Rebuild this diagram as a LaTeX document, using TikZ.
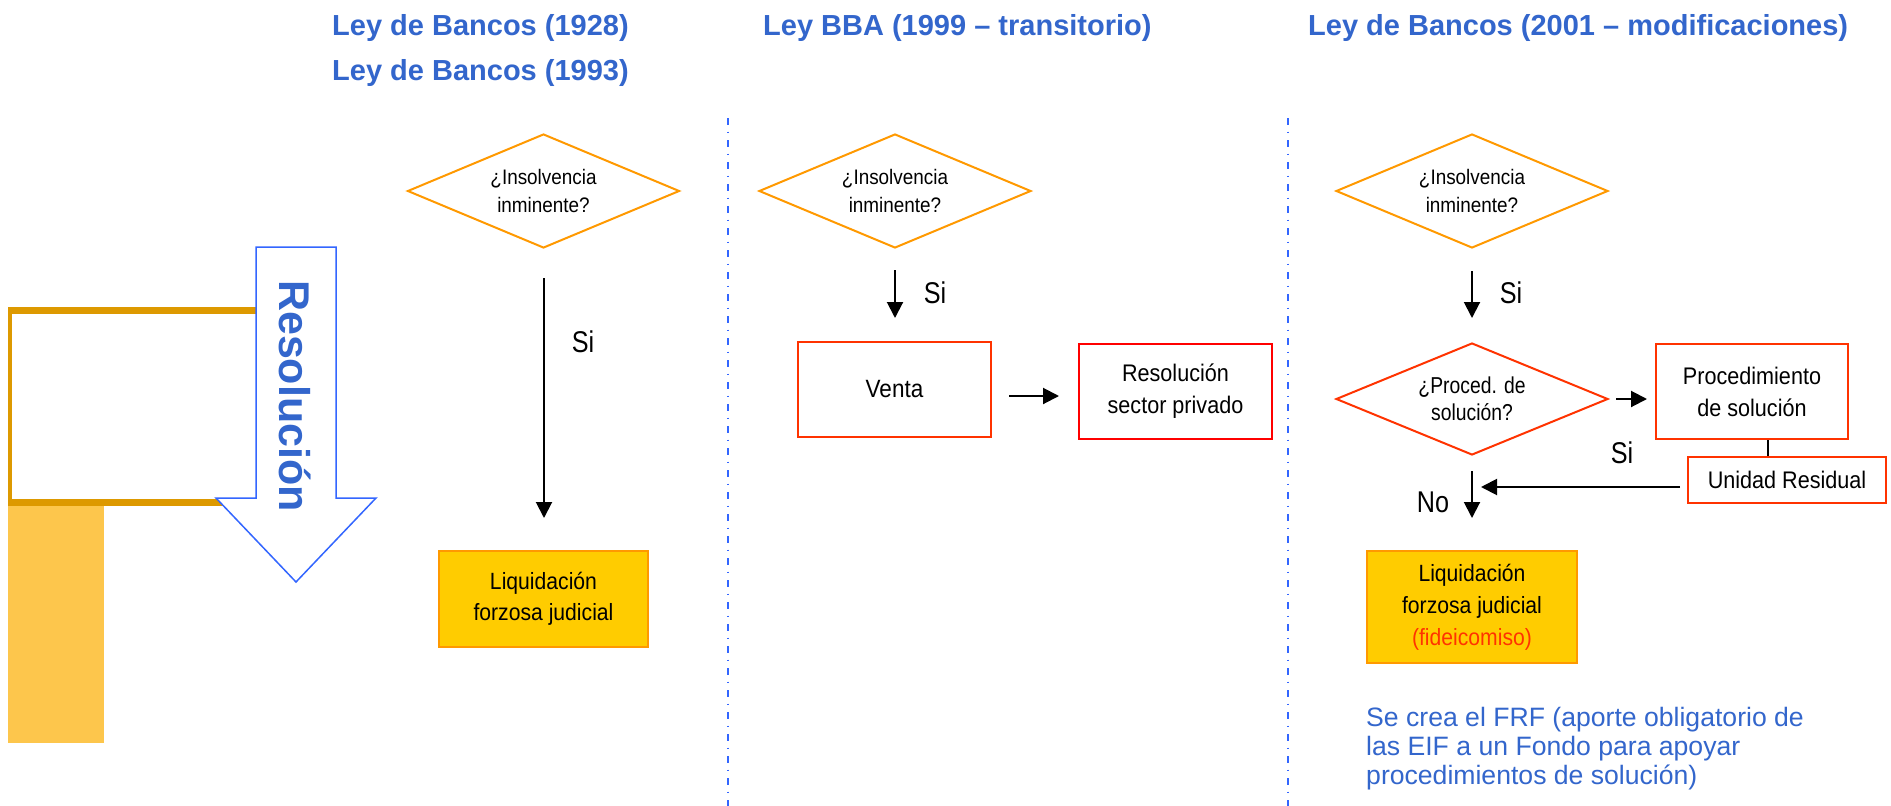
\documentclass[tikz,border=0pt]{standalone}
\usepackage{fontspec}
\setmainfont{Liberation Sans}
\newfontfamily\nar[FakeStretch=0.9]{Liberation Sans}
\newfontfamily\narr[FakeStretch=0.84]{Liberation Sans}
\usetikzlibrary{shapes.geometric,arrows.meta}
\definecolor{hblue}{HTML}{3366CC}
\definecolor{lblue}{HTML}{3366FF}
\definecolor{dorange}{HTML}{FF9900}
\definecolor{gold}{HTML}{DD9900}
\definecolor{lyellow}{HTML}{FDC64C}
\definecolor{lfill}{HTML}{FFCC00}
\definecolor{rred}{HTML}{FF3300}
\definecolor{pred}{HTML}{FF0000}
\begin{document}
\begin{tikzpicture}[x=1pt,y=-1pt,
 header/.style={font=\fontsize{29}{34}\selectfont\bfseries, text=hblue, anchor=west, inner sep=0},
 decision/.style={diamond, aspect=2.4, draw=dorange, line width=2pt, minimum width=272pt, minimum height=114pt, inner sep=0, align=center, font=\nar\fontsize{21}{28}\selectfont},
 redbox/.style={draw=rred, line width=2.5pt, align=center, inner sep=0, font=\nar\fontsize{24}{32}\selectfont},
 liqbox/.style={draw=dorange, fill=lfill, line width=2.5pt, align=center, inner sep=0, font=\nar\fontsize{23.5}{31}\selectfont},
 lbl/.style={font=\narr\fontsize{30}{32}\selectfont, inner sep=0},
 flow/.style={line width=2pt, -{Triangle[width=16pt,length=16pt]}},
 plain/.style={line width=2pt},
 sep/.style={lblue, line width=2pt, dash pattern=on 7pt off 6.5pt on 1.5pt off 7pt}]
\useasboundingbox (0,0) rectangle (1891,806);
\fill[white] (0,0) rectangle (1891,806);

% headers
\node[header] (h1) at (332,28) {Ley de Bancos (1928)};
\node[header] (h1b) at (332,73) {Ley de Bancos (1993)};
\node[header] (h2) at (763,28) {Ley BBA (1999 -- transitorio)};
\node[header] (h3) at (1308,28) {Ley de Bancos (2001 -- modificaciones)};

% separators
\coordinate (s1t) at (728,118); \coordinate (s1b) at (728,806);
\coordinate (s2t) at (1288,118); \coordinate (s2b) at (1288,806);
\draw[sep] (s1t) -- (s1b);
\draw[sep] (s2t) -- (s2b);

% left decoration
\fill[gold] (8,307) rectangle (300,506);
\fill[white] (12,314) rectangle (300,499);
\fill[lyellow] (8,506) rectangle (104,743);
\draw[lblue, line width=1.5pt, fill=white] (256,247) -- (336,247) -- (336,498) -- (376,498) -- (296,582) -- (216,498) -- (256,498) -- cycle;
\node[rotate=-90, font=\fontsize{43}{43}\selectfont\bfseries, text=hblue, inner sep=0] (res) at (295,396) {Resolución};

% column 1
\node[decision] (d1) at (543.5,191) {¿Insolvencia\\inminente?};
\coordinate (a1s) at (544,278); \coordinate (a1e) at (544,518);
\draw[flow] (a1s) -- (a1e);
\node[lbl] (si1) at (583,342) {Si};
\node[liqbox, minimum width=209pt, minimum height=96pt] (l1) at (543.5,599) {Liquidación\\forzosa judicial};

% column 2
\node[decision] (d2) at (895,191) {¿Insolvencia\\inminente?};
\coordinate (a2s) at (895,270); \coordinate (a2e) at (895,318);
\draw[flow] (a2s) -- (a2e);
\node[lbl] (si2) at (935,293) {Si};
\node[redbox, minimum width=193pt, minimum height=95pt, font=\nar\fontsize{25}{32}\selectfont] (venta) at (894.5,389.5) {Venta};
\node[redbox, draw=pred, minimum width=193pt, minimum height=95pt] (rsp) at (1175.5,391.5) {Resolución\\sector privado};
\coordinate (a3s) at (1009,396); \coordinate (a3e) at (1059,396);
\draw[flow] (a3s) -- (a3e);

% column 3
\node[decision] (d3) at (1472,191) {¿Insolvencia\\inminente?};
\coordinate (a4s) at (1472,271); \coordinate (a4e) at (1472,318);
\draw[flow] (a4s) -- (a4e);
\node[lbl] (si3) at (1511,293) {Si};
\node[decision, draw=rred, minimum height=112pt, font=\narr\fontsize{23}{27}\selectfont] (d4) at (1472,399) {¿Proced. de\\solución?};
\coordinate (a5s) at (1616,399); \coordinate (a5e) at (1647,399);
\draw[flow] (a5s) -- (a5e);
\node[redbox, minimum width=192pt, minimum height=95pt] (proc) at (1752,391.5) {Procedimiento\\de solución};
\node[redbox, minimum width=198pt, minimum height=46pt] (unid) at (1787,480) {Unidad Residual};
\coordinate (cx) at (1768,0);
\draw[plain] (proc.south -| cx) -- (unid.north -| cx);
\coordinate (a6s) at (1680,487); \coordinate (a6e) at (1481,487);
\draw[flow] (a6s) -- (a6e);
\node[lbl] (si4) at (1622,453) {Si};
\coordinate (a7s) at (1472,471); \coordinate (a7e) at (1472,518);
\draw[flow] (a7s) -- (a7e);
\node[lbl] (no) at (1433,502) {No};
\node[liqbox, minimum width=210pt, minimum height=112pt, font=\nar\fontsize{23.5}{32}\selectfont] (l3) at (1472,607) {Liquidación\\forzosa judicial\\\textcolor{rred}{(fideicomiso)}};

% note
\node[anchor=north west, align=left, inner sep=0, text=hblue, font=\fontsize{26.6}{29}\selectfont] (frf) at (1366,707) {Se crea el FRF (aporte obligatorio de\\las EIF a un Fondo para apoyar\\procedimientos de solución)};
\end{tikzpicture}
\end{document}
